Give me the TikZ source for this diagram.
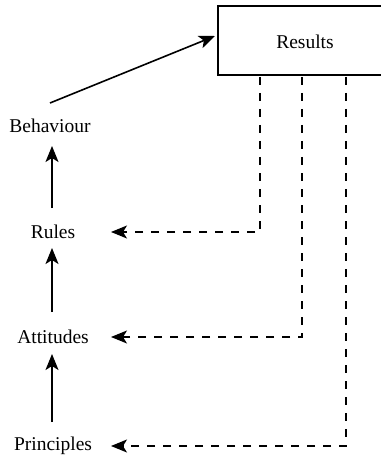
\documentclass[tikz,border=0pt]{standalone}
\usepackage{fontspec}
\setmainfont{Liberation Serif}
\usetikzlibrary{arrows.meta}
\begin{document}
\begin{tikzpicture}[x=1pt,y=-1pt,
  lbl/.style={font=\fontsize{19.5}{22}\selectfont, inner sep=2pt},
  tip/.style={-{Stealth[length=16pt,width=13pt,inset=4pt]}},
  up/.style={tip, line width=1.6pt},
  back/.style={tip, line width=1.4pt, dash pattern=on 8pt off 8pt}]
\useasboundingbox (0,0) rectangle (380,457);
% outcome box (its right side runs off the page)
\draw[line width=2.6pt] (384,6) -- (218,6) -- (218,75) -- (384,75);
\node[lbl] (res) at (305,42) {Results};
\coordinate (resL) at (215,36);
% chain of levels
\node[lbl] (beh) at (50,126) {Behaviour};
\node[lbl] (rul) at (53,232) {Rules};
\node[lbl] (att) at (53,337) {Attitudes};
\node[lbl] (pri) at (53,446) {Principles};
% arrow targets to the right of each level
\coordinate (rulT) at (111,232);
\coordinate (attT) at (111,337);
\coordinate (priT) at (111,446);
% upward arrows
\draw[up] (52,208) -- (52,146);
\draw[up] (52,312) -- (52,248);
\draw[up] (52,422) -- (52,354);
\draw[line width=1.6pt, -{Stealth[length=16pt,width=13pt,inset=4pt]}] (50,103) -- (resL);
% feedback from results
\coordinate (d1) at (260,77);
\coordinate (d2) at (302,77);
\coordinate (d3) at (346,77);
\draw[back] (d1) |- (rulT);
\draw[back] (d2) |- (attT);
\draw[back] (d3) |- (priT);
\end{tikzpicture}
\end{document}
